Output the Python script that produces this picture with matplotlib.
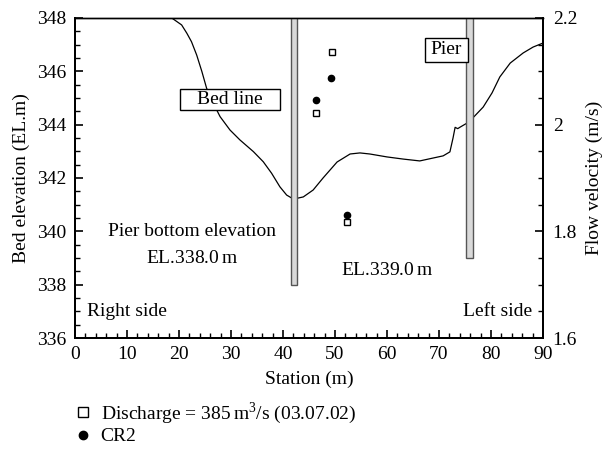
import matplotlib.pyplot as plt
from matplotlib.ticker import MultipleLocator
from matplotlib.lines import Line2D
from matplotlib.patches import Rectangle

plt.rcParams['font.family'] = ['Liberation Serif', 'DejaVu Serif']
plt.rcParams['mathtext.fontset'] = 'custom'
plt.rcParams['mathtext.rm'] = 'Liberation Serif'

# bed profile (station m, elevation EL.m)
bed_x = [18.6, 20.5, 21.5, 22.4, 23.4, 24.4, 25.3, 26.6, 27.9, 29.8, 31.7, 34.3,
         36.2, 37.8, 39.4, 40.7, 42.0, 43.9, 45.8, 47.7, 50.4, 52.9, 54.8, 56.7,
         60.0, 63.1, 66.3, 68.9, 70.8, 72.1, 72.7, 73.1, 73.6, 74.0, 75.4, 76.5,
         78.5, 80.2, 81.7, 83.7, 86.2, 88.1, 90.0]
bed_y = [348.0, 347.74, 347.43, 347.11, 346.61, 345.99, 345.37, 344.8, 344.3, 343.8,
         343.43, 342.99, 342.61, 342.18, 341.67, 341.36, 341.21, 341.29, 341.55, 342.0,
         342.6, 342.9, 342.94, 342.9, 342.79, 342.71, 342.64, 342.75, 342.83, 342.98,
         343.5, 343.9, 343.85, 343.9, 344.06, 344.25, 344.66, 345.19, 345.79, 346.31,
         346.69, 346.91, 347.06]

# piers: station, bottom elevation
pier_x = [42.1, 75.9]
pier_bottom = [338.0, 339.0]
pier_width = 1.3

# flow velocity measurements
q_x = [49.4, 46.3, 52.4]
q_v = [2.136, 2.021, 1.818]
cr2_x = [49.2, 46.3, 52.4]
cr2_v = [2.087, 2.046, 1.831]

fig = plt.figure(figsize=(6.05, 4.67), dpi=100)
ax = fig.add_axes([0.124, 0.2762, 0.7735, 0.6853])
ax2 = ax.twinx()

ax.plot(bed_x, bed_y, color='black', lw=0.9, zorder=3)
for px, pb in zip(pier_x, pier_bottom):
    ax.bar(px, 348 - pb, bottom=pb, width=pier_width, color='#d9d9d9',
           edgecolor='#555555', linewidth=1.0, zorder=4)

ax2.plot(q_x, q_v, 's', ms=4, mfc='white', mec='black', mew=1.0, zorder=5)
ax2.plot(cr2_x, cr2_v, 'o', ms=4.5, color='black', zorder=5)

ax.set_xlim(0, 90)
ax.set_ylim(336, 348)
ax2.set_ylim(1.6, 2.2)

fs = 14
ax.xaxis.set_major_locator(MultipleLocator(10))
ax.xaxis.set_minor_locator(MultipleLocator(2))
ax.yaxis.set_major_locator(MultipleLocator(2))
ax.yaxis.set_minor_locator(MultipleLocator(0.5))
ax2.yaxis.set_minor_locator(MultipleLocator(0.05))
ax2.set_yticks([1.6, 1.8, 2.0, 2.2])
ax2.set_yticklabels(['1.6', '1.8', '2', '2.2'])

ax.tick_params(which='both', direction='in', top=False, right=False, labelsize=fs)
ax.tick_params(axis='y', pad=6)
ax.tick_params(axis='x', pad=6)
ax2.tick_params(which='both', direction='in', labelsize=fs, pad=7)
for a in (ax, ax2):
    a.tick_params(which='major', length=6, width=1.2)
    a.tick_params(which='minor', length=3.5, width=1.0)
    a.spines['top'].set_linewidth(1.0)
    for side in ('left', 'bottom', 'right'):
        a.spines[side].set_linewidth(1.4)

ax.set_xlabel('Station (m)', fontsize=fs, labelpad=5)
ax.set_ylabel('Bed elevation (EL.m)', fontsize=fs, labelpad=5)
ax2.set_ylabel('Flow velocity (m/s)', fontsize=fs, labelpad=6)

# label boxes
ax.add_patch(Rectangle((20.2, 344.55), 19.2, 0.8, fc='white', ec='black', lw=1.0, zorder=6))
ax.text(29.8, 344.95, 'Bed line', fontsize=fs, ha='center', va='center', zorder=7)
ax.add_patch(Rectangle((67.3, 346.35), 8.3, 0.9, fc='white', ec='black', lw=1.0, zorder=6))
ax.text(71.45, 346.8, 'Pier', fontsize=fs, ha='center', va='center', zorder=7)

ax.text(22.5, 340.0, 'Pier bottom elevation', fontsize=fs, ha='center', va='center')
ax.text(22.5, 339.0, 'EL.338.0$\\,$m', fontsize=fs, ha='center', va='center')
ax.text(60.0, 338.55, 'EL.339.0$\\,$m', fontsize=fs, ha='center', va='center')
ax.text(2.3, 337.0, 'Right side', fontsize=fs, ha='left', va='center')
ax.text(87.9, 337.0, 'Left side', fontsize=fs, ha='right', va='center')

handles = [
    Line2D([], [], ls='none', marker='s', ms=7, mfc='white', mec='black', mew=1.0),
    Line2D([], [], ls='none', marker='o', ms=6, color='black'),
]
labels = ['Discharge = 385$\\,$m$^3$/s (03.07.02)', 'CR2']
fig.legend(handles, labels, loc='upper left', bbox_to_anchor=(0.115, 0.16),
           frameon=False, fontsize=fs, handlelength=0.6, handletextpad=0.6,
           labelspacing=0.1, borderaxespad=0)

fig.savefig('out.png', dpi=100)
